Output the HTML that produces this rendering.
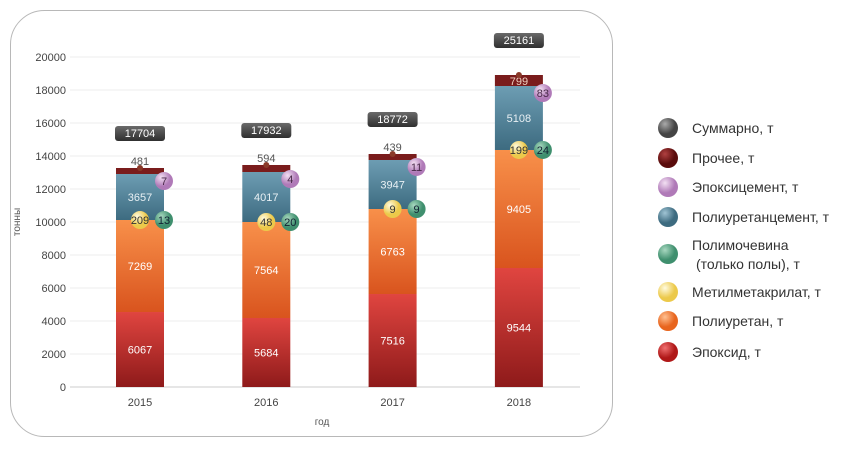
<!DOCTYPE html>
<html><head><meta charset="utf-8"><style>
body{margin:0;background:#fff;font-family:"Liberation Sans",sans-serif;}
</style></head><body>
<svg width="868" height="446" xmlns="http://www.w3.org/2000/svg" font-family="Liberation Sans, sans-serif">
<defs>
<linearGradient id="gRed" x1="0" y1="0" x2="0" y2="1"><stop offset="0" stop-color="#e04540"/><stop offset="1" stop-color="#8e1a1a"/></linearGradient>
<linearGradient id="gOr" x1="0" y1="0" x2="0" y2="1"><stop offset="0" stop-color="#f8904a"/><stop offset="1" stop-color="#d9541e"/></linearGradient>
<linearGradient id="gBl" x1="0" y1="0" x2="0" y2="1"><stop offset="0" stop-color="#6d9db3"/><stop offset="1" stop-color="#3d6b80"/></linearGradient>
<linearGradient id="gBox" x1="0" y1="0" x2="0" y2="1"><stop offset="0" stop-color="#6a6a6a"/><stop offset="1" stop-color="#2f2f2f"/></linearGradient>
<radialGradient id="bPur" cx="0.35" cy="0.3"><stop offset="0" stop-color="#f3e0f3"/><stop offset="1" stop-color="#b07ab8"/></radialGradient>
<radialGradient id="bYel" cx="0.35" cy="0.3"><stop offset="0" stop-color="#fffbe0"/><stop offset="1" stop-color="#ecc94a"/></radialGradient>
<radialGradient id="bGrn" cx="0.35" cy="0.3"><stop offset="0" stop-color="#a8d8c0"/><stop offset="1" stop-color="#3f8f6e"/></radialGradient>
<radialGradient id="bGry" cx="0.35" cy="0.3"><stop offset="0" stop-color="#aaa"/><stop offset="1" stop-color="#444"/></radialGradient>
<radialGradient id="bDk" cx="0.35" cy="0.3"><stop offset="0" stop-color="#b04040"/><stop offset="1" stop-color="#5a0c0c"/></radialGradient>
<radialGradient id="bRed" cx="0.35" cy="0.3"><stop offset="0" stop-color="#f07070"/><stop offset="1" stop-color="#b01818"/></radialGradient>
<radialGradient id="bOr" cx="0.35" cy="0.3"><stop offset="0" stop-color="#ffc090"/><stop offset="1" stop-color="#e8651e"/></radialGradient>
<radialGradient id="bBl" cx="0.35" cy="0.3"><stop offset="0" stop-color="#a0c4d4"/><stop offset="1" stop-color="#3d6b80"/></radialGradient>
</defs>
<rect x="10.5" y="10.5" width="602" height="426" rx="34" fill="#fff" stroke="#b8b8b8"/>
<g id="grid"></g>
<g id="bars"></g>
<text x="0" y="0" transform="translate(20,222) rotate(-90)" font-size="10" fill="#555" text-anchor="middle">тонны</text>
<text x="322" y="425" font-size="10" fill="#555" text-anchor="middle">год</text>
<g id="legend"></g>
</svg>
<script>
const years=["2015","2016","2017","2018"];
const epoxy=[4545,4182,5636,7212];
const pu=[5576,5818,5152,7152];
const puCement=[2788,3030,2970,3878];
const other=[364,425,363,667];
const lblEpoxy=["6067","5684","7516","9544"];
const lblPu=["7269","7564","6763","9405"];
const lblPuCement=["3657","4017","3947","5108"];
const lblOther=["481","594","439","799"];
const lblMma=["209","48","9","199"];
const lblPolyurea=["13","20","9","24"];
const lblEpoxyCement=["7","4","11","83"];
const lblTotal=["17704","17932","18772","25161"];
const yTicks=[0,2000,4000,6000,8000,10000,12000,14000,16000,18000,20000];
const legendLabels=["Суммарно, т","Прочее, т","Эпоксицемент, т","Полиуретанцемент, т","Полимочевина","Метилметакрилат, т","Полиуретан, т","Эпоксид, т"];
const NS="http://www.w3.org/2000/svg";
const y0=387,kY=330/20000;
const Y=v=>y0-v*kY;
const X=i=>140+i*126.3;
function el(t,a,p,txt){const e=document.createElementNS(NS,t);for(const k in a)e.setAttribute(k,a[k]);if(txt!==undefined)e.textContent=txt;p.appendChild(e);return e;}
const grid=document.getElementById('grid');
yTicks.forEach(t=>{
  const l=el('line',{x1:70,x2:580,y1:Y(t),y2:Y(t),stroke:t===0?'#ccc':'#ececec'},grid);
  
  
  const tx=el('text',{x:66,y:Y(t)+4,'font-size':11,fill:'#444','text-anchor':'end'},grid,String(t));
  
  
});
const bars=document.getElementById('bars');
function bubble(cx,cy,fill,txt,dark){
  const g=el('g',{},bars);
  
  
  el('circle',{cx:cx,cy:cy,r:9,fill:fill},g);
  el('text',{x:cx,y:cy+4,'font-size':11,fill:dark,'text-anchor':'middle'},g,txt);
}
years.forEach((yr,i)=>{
  const cx=X(i),w=48,x=cx-w/2;
  const segs=[[epoxy[i],'url(#gRed)',lblEpoxy[i],'#fff','segment-epoxy'],[pu[i],'url(#gOr)',lblPu[i],'#fff','segment-polyurethane'],[puCement[i],'url(#gBl)',lblPuCement[i],'#e8f0f4','segment-pu-cement'],[other[i],'#7a1c1c',null,'','segment-other']];
  let acc=0;const tops=[];
  segs.forEach(s=>{
    const r=el('rect',{x:x,y:Y(acc+s[0]),width:w,height:s[0]*kY,fill:s[1]},bars);
    
    
    if(s[2]){const t=el('text',{x:cx,y:Y(acc+s[0]/2)+4,'font-size':11,fill:s[3],'text-anchor':'middle'},bars,s[2]);
      
      }
    acc+=s[0];tops.push(acc);
  });
  const top=Y(acc);
  const inside=other[i]*kY>9;
  const ot=el('text',{x:cx,y:inside?top+10:top-3,'font-size':11,fill:inside?'#f0d0c0':'#555','text-anchor':'middle'},bars,lblOther[i]);
  
  
  el('circle',{cx:cx,cy:top,r:3,fill:'#8a3a2a'},bars);
  bubble(x+w,Y(tops[2])+7,'url(#bPur)',lblEpoxyCement[i],'#4a2a4a');
  bubble(cx,Y(tops[1]),'url(#bYel)',lblMma[i],'#333');
  bubble(x+w,Y(tops[1]),'url(#bGrn)',lblPolyurea[i],'#123');
  const g=el('g',{},bars);
  
  
  el('rect',{x:cx-25,y:top-42,width:50,height:15,rx:3,fill:'url(#gBox)'},g);
  el('text',{x:cx,y:top-31,'font-size':11,fill:'#fff','text-anchor':'middle'},g,lblTotal[i]);
  const xl=el('text',{x:cx,y:406,'font-size':11,fill:'#444','text-anchor':'middle'},bars,yr);
  
  
});
const leg=document.getElementById('legend');
const lf=['url(#bGry)','url(#bDk)','url(#bPur)','url(#bBl)','url(#bGrn)','url(#bYel)','url(#bOr)','url(#bRed)'];
const ly=[128,158,187,217,254,292,321,352];
legendLabels.forEach((t,i)=>{
  const g=el('g',{},leg);
  
  
  el('circle',{cx:668,cy:ly[i],r:10,fill:lf[i]},g);
  el('text',{x:692,y:i===4?ly[i]-4:ly[i]+5,'font-size':14,fill:'#333'},g,t);
  if(i===4) el('text',{x:696,y:ly[i]+15,'font-size':14,fill:'#333'},g,'(только полы), т');
});
</script>
</body></html>
